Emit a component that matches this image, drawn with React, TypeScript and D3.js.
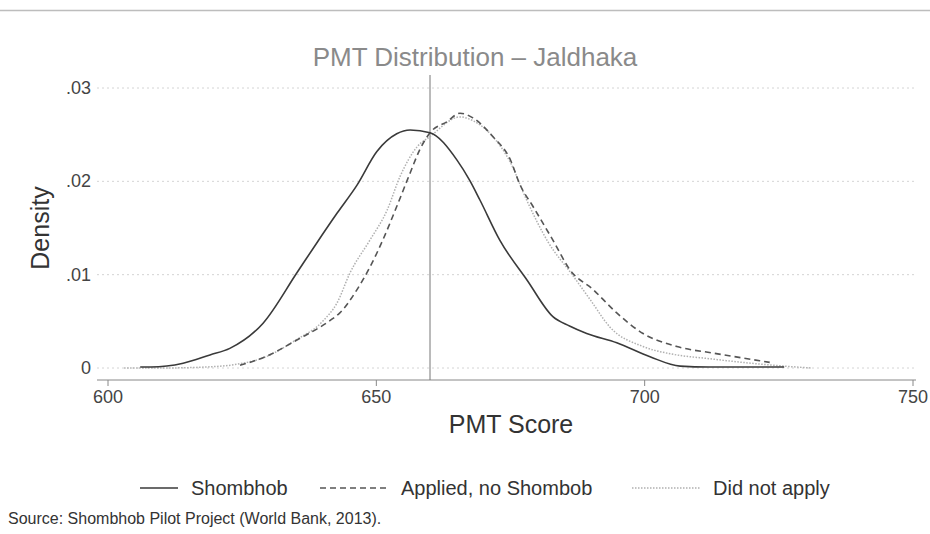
import React, { useEffect, useRef } from 'react';
import * as d3 from 'd3';

// PMT score (x) and kernel density (y)
const shombhobScore = [606, 608, 614, 619, 622.7, 628.9, 635.2, 638.9, 642.7, 646.4, 650.1, 653.8, 656.3, 660, 665, 667.4, 669.3, 673, 678.1, 682.9, 686, 689.2, 694.8, 701, 706.6, 712, 726];
const shombhobDensity = [0.0001, 0.0001, 0.0005, 0.0014, 0.0021, 0.0048, 0.0102, 0.0134, 0.0166, 0.0196, 0.0232, 0.0251, 0.0255, 0.0252, 0.0223, 0.0201, 0.018, 0.0137, 0.0094, 0.0055, 0.0045, 0.0037, 0.0027, 0.0012, 0.0002, 0.0001, 0.0001];

const appliedScore = [624.6, 628.9, 635.2, 641.4, 643.2, 646.4, 648.8, 651.2, 653.8, 656.3, 658.1, 660, 663.2, 665.6, 668, 671.7, 674.9, 676.8, 679.2, 682.9, 686.1, 690.4, 694.8, 699.7, 706, 712.7, 718, 723.3];
const appliedDensity = [0.0003, 0.0011, 0.003, 0.0051, 0.0059, 0.0084, 0.0108, 0.0137, 0.0173, 0.0209, 0.0234, 0.0252, 0.0264, 0.0273, 0.0268, 0.0248, 0.0224, 0.0196, 0.0173, 0.0137, 0.0105, 0.0084, 0.0059, 0.0037, 0.0023, 0.0016, 0.0011, 0.0006];

const notAppliedScore = [603, 610, 618, 624, 629, 635, 640, 642.7, 645.1, 648.8, 652, 654.4, 657.6, 660, 665.6, 668, 671.7, 675, 678, 682, 686.5, 690, 693.5, 699.7, 705, 712, 720, 726, 731];
const notAppliedDensity = [0, 0, 0.0001, 0.0004, 0.0011, 0.003, 0.005, 0.007, 0.0102, 0.0137, 0.0169, 0.0205, 0.0237, 0.0248, 0.0269, 0.0265, 0.0248, 0.022, 0.018, 0.0135, 0.01, 0.0072, 0.0044, 0.0023, 0.0015, 0.001, 0.0005, 0.0002, 0];

const xTicks = [600, 650, 700, 750];
const yTicks = [0, 0.01, 0.02, 0.03];
const yTickLabels = ['0', '.01', '.02', '.03'];
const cutoff = 660;

const seriesNames = ['Shombhob', 'Applied, no Shombob', 'Did not apply'];

const FONT = "'Liberation Sans', Arial, sans-serif";

const drawChart = (node: SVGSVGElement) => {
    const svg = d3.select(node);
    svg.selectAll('*').remove();

    // scales
    const x = d3.scaleLinear().domain([600, 750]).range([108, 913]);
    const y = d3.scaleLinear().domain([0, 0.03]).range([368, 88]);
    const plotLeft = 97, plotRight = 916, plotTop = 75, plotBottom = 380;

    // top rule
    svg.append('line')
        .attr('x1', 0).attr('x2', 930).attr('y1', 10.5).attr('y2', 10.5)
        .attr('stroke', '#bdbdbd').attr('stroke-width', 1.5);

    // title
    svg.append('text')
        .attr('x', 475).attr('y', 66)
        .attr('text-anchor', 'middle')
        .style('font-family', FONT).style('font-size', '26px')
        .attr('fill', '#8a8a8a')
        .text('PMT Distribution \u2013 Jaldhaka');

    // gridlines
    svg.append('g').selectAll('line')
        .data(yTicks).enter().append('line')
        .attr('x1', plotLeft).attr('x2', plotRight)
        .attr('y1', (d) => y(d)).attr('y2', (d) => y(d))
        .attr('stroke', '#d4d4d4').attr('stroke-width', 1)
        .attr('stroke-dasharray', '2,3');

    // y tick labels
    svg.append('g').selectAll('text')
        .data(yTicks).enter().append('text')
        .attr('x', 91).attr('y', (d) => y(d) + 6)
        .attr('text-anchor', 'end')
        .style('font-family', FONT).style('font-size', '18px')
        .attr('fill', '#444')
        .text((d, i) => yTickLabels[i]);

    // x axis
    svg.append('line')
        .attr('x1', plotLeft).attr('x2', plotRight)
        .attr('y1', plotBottom).attr('y2', plotBottom)
        .attr('stroke', '#888').attr('stroke-width', 1);
    svg.append('g').selectAll('line')
        .data(xTicks).enter().append('line')
        .attr('x1', (d) => x(d)).attr('x2', (d) => x(d))
        .attr('y1', plotBottom).attr('y2', plotBottom + 6)
        .attr('stroke', '#888');
    svg.append('g').selectAll('text')
        .data(xTicks).enter().append('text')
        .attr('x', (d) => x(d)).attr('y', 403)
        .attr('text-anchor', 'middle')
        .style('font-family', FONT).style('font-size', '18px')
        .attr('fill', '#444')
        .text((d) => String(d));

    // axis titles
    svg.append('text')
        .attr('x', 511).attr('y', 433)
        .attr('text-anchor', 'middle')
        .style('font-family', FONT).style('font-size', '25px')
        .attr('fill', '#333')
        .text('PMT Score');
    svg.append('text')
        .attr('transform', 'translate(49,228) rotate(-90)')
        .attr('text-anchor', 'middle')
        .style('font-family', FONT).style('font-size', '25px')
        .attr('fill', '#333')
        .text('Density');

    // cutoff line
    svg.append('line')
        .attr('x1', x(cutoff)).attr('x2', x(cutoff))
        .attr('y1', plotTop).attr('y2', plotBottom)
        .attr('stroke', '#777').attr('stroke-width', 1);

    const line = d3.line<[number, number]>()
        .x((d) => x(d[0]))
        .y((d) => y(d[1]))
        .curve(d3.curveMonotoneX);

    const zip = (a: number[], b: number[]) => a.map((v, i) => [v, b[i]] as [number, number]);

    const styles = [
        { stroke: '#3a3a3a', width: 1.6, dash: null },
        { stroke: '#555', width: 1.6, dash: '6,4' },
        { stroke: '#b0b0b0', width: 1.5, dash: '1.5,1.5' },
    ];
    const series = [
        zip(notAppliedScore, notAppliedDensity),
        zip(appliedScore, appliedDensity),
        zip(shombhobScore, shombhobDensity),
    ];
    const seriesStyle = [styles[2], styles[1], styles[0]];

    series.forEach((s, i) => {
        svg.append('path')
            .datum(s)
            .attr('fill', 'none')
            .attr('stroke', seriesStyle[i].stroke)
            .attr('stroke-width', seriesStyle[i].width)
            .attr('stroke-dasharray', seriesStyle[i].dash)
            .attr('d', line);
    });

    // legend
    const legendLines = [[140, 178], [320, 388], [632, 700]];
    seriesNames.forEach((name, i) => {
        svg.append('line')
            .attr('x1', legendLines[i][0]).attr('x2', legendLines[i][1])
            .attr('y1', 488).attr('y2', 488)
            .attr('stroke', styles[i].stroke)
            .attr('stroke-width', styles[i].width)
            .attr('stroke-dasharray', styles[i].dash);
        svg.append('text')
            .attr('x', legendLines[i][1] + 13).attr('y', 495)
            .style('font-family', FONT).style('font-size', '20px')
            .attr('fill', '#333')
            .text(name);
    });

    // source note
    svg.append('text')
        .attr('x', 8).attr('y', 524)
        .style('font-family', FONT).style('font-size', '16px')
        .attr('fill', '#333')
        .text('Source: Shombhob Pilot Project (World Bank, 2013).');
};

const App = () => {
    const ref = useRef<SVGSVGElement>(null);

    useEffect(() => {
        if (ref.current) drawChart(ref.current);
    }, []);

    return (
        <svg
            ref={ref}
            width={930}
            height={534}
            style={{ position: 'absolute', left: 0, top: 0, background: '#fff' }}
        />
    );
};

export default App;
